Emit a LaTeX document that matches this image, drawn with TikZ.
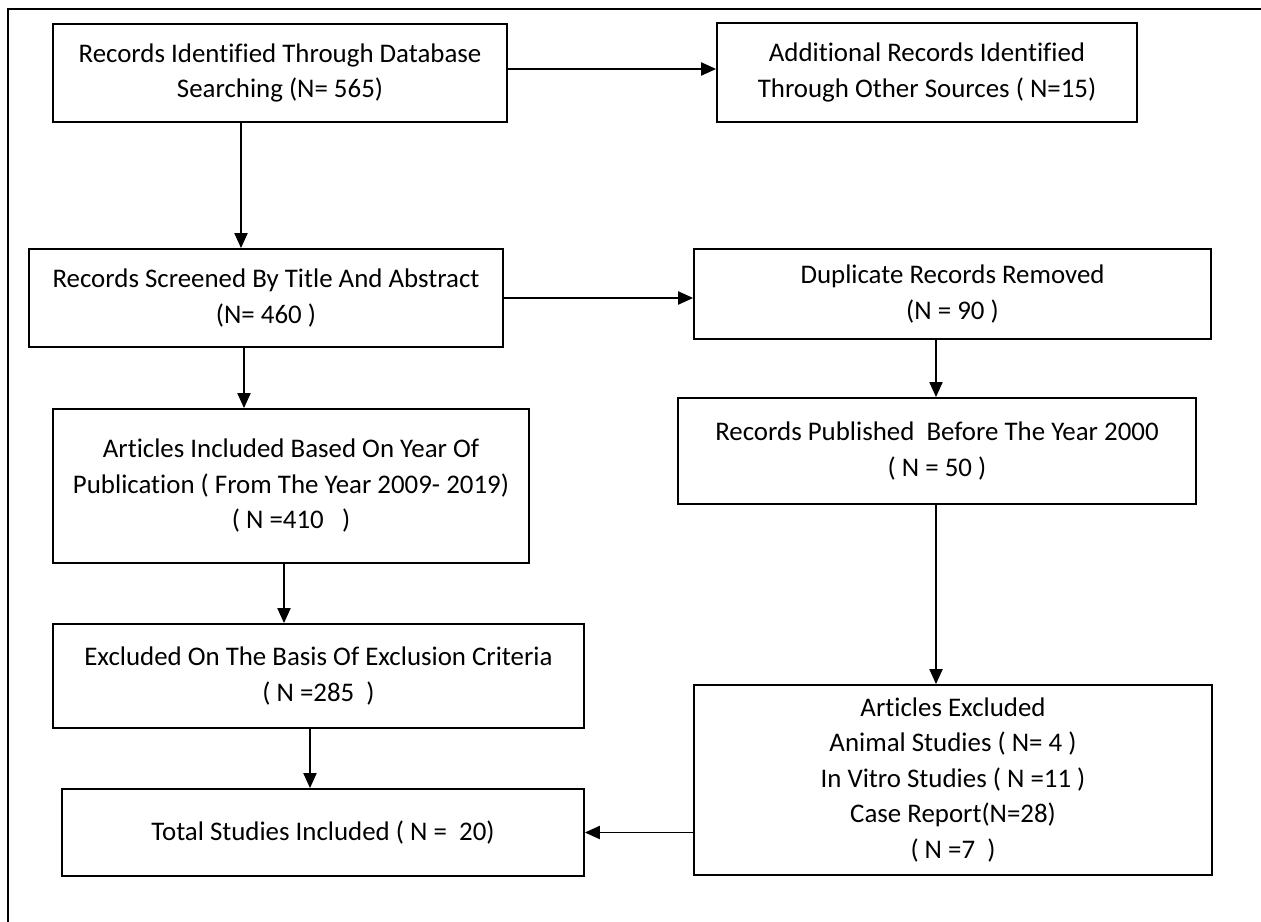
\documentclass[tikz,border=0pt]{standalone}
\usepackage{fontspec}
\setmainfont[Ligatures=NoCommon]{Carlito}
\usetikzlibrary{arrows.meta}

\begin{document}
\begin{tikzpicture}[x=0.02cm, y=-0.02cm, -{Triangle[length=8.5pt,width=7.5pt]}, line width=0.8pt,
        every node/.append style={font=\fontsize{15.3}{20.2}\selectfont}]
      \tikzstyle{rec} = [draw, line width=1.1pt, align=center, inner sep=0pt]
      \useasboundingbox (0,0) rectangle (1261,922);
      \draw[-, line width=1pt] (8,922) -- (8,9) -- (1261,9);
      % left column
      \node (dbsearch) [rec, minimum width=9.08cm, minimum height=1.96cm] at (280,73)
        {Records Identified Through Database\\Searching (N= 565)};
      \node (screened) [rec, minimum width=9.48cm, minimum height=1.96cm] at (266,298)
        {Records Screened By Title And Abstract\\(N= 460 )};
      \node (byyear) [rec, minimum width=9.52cm, minimum height=3.08cm] at (291,486)
        {Articles Included Based On Year Of\\Publication ( From The Year 2009- 2019)\\( N =410~~~)};
      \node (criteria) [rec, minimum width=10.62cm, minimum height=2.08cm] at (318.5,676)
        {Excluded On The Basis Of Exclusion Criteria\\( N =285~~)};
      \node (total) [rec, minimum width=10.44cm, minimum height=1.74cm] at (323,832.5)
        {Total Studies Included ( N =~~20)};
      % right column
      \node (othersrc) [rec, minimum width=8.40cm, minimum height=1.98cm] at (927,72.5)
        {Additional Records Identified\\Through Other Sources ( N=15)};
      \node (duplicate) [rec, minimum width=10.34cm, minimum height=1.80cm] at (952.5,294)
        {Duplicate Records Removed\\(N = 90 )};
      \node (before2000) [rec, minimum width=10.36cm, minimum height=2.12cm] at (937,451)
        {Records Published~~Before The Year 2000\\( N = 50 )};
      \node (artexcl) [rec, minimum width=10.36cm, minimum height=3.80cm] at (953,780)
        {Articles Excluded\\Animal Studies ( N= 4 )\\In Vitro Studies ( N =11 )\\Case Report(N=28)\\( N =7~~)};
      % connectors
      \draw (dbsearch.east |- 0,69) -- (othersrc.west |- 0,69);
      \draw (dbsearch.south -| 241,0) -- (screened.north -| 241,0);
      \draw (screened.east |- 0,298) -- (duplicate.west |- 0,298);
      \draw (screened.south -| 244,0) -- (byyear.north -| 244,0);
      \draw (byyear.south -| 284,0) -- (criteria.north -| 284,0);
      \draw (criteria.south -| 310,0) -- (total.north -| 310,0);
      \draw (duplicate.south -| 936,0) -- (before2000.north -| 936,0);
      \draw (before2000.south -| 936,0) -- (artexcl.north -| 936,0);
      \draw (total.east -| artexcl.west) -- (total.east);
\end{tikzpicture}
\end{document}
